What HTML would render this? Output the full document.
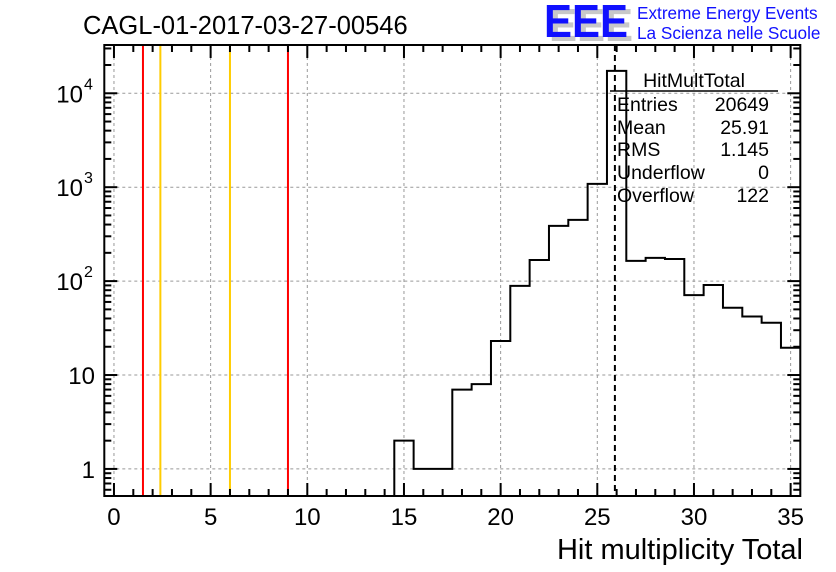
<!DOCTYPE html>
<html><head><meta charset="utf-8"><style>
body{margin:0;background:#fff;}
svg{display:block;font-family:"Liberation Sans",sans-serif;}
</style></head><body>
<svg id="c" width="836" height="572" viewBox="0 0 836 572">
<text x="83" y="34" font-size="25.5">CAGL-01-2017-03-27-00546</text>
<g>
<text x="549" y="41" font-size="46" font-weight="bold" fill="#c8c8c8" textLength="84" lengthAdjust="spacingAndGlyphs">EEE</text>
<text x="544" y="37" font-size="46" font-weight="bold" fill="#1010ff" textLength="84" lengthAdjust="spacingAndGlyphs">EEE</text>
<text x="637" y="19" font-size="17.2" fill="#1010ff">Extreme Energy Events</text>
<text x="637" y="39" font-size="17.2" fill="#1010ff">La Scienza nelle Scuole</text>
</g>
<g id="grid"></g><g id="marks"></g><g id="axes"></g>
<g font-size="19.5">
<text x="694" y="87" text-anchor="middle">HitMultTotal</text>
<line x1="610" y1="91" x2="778" y2="91" stroke="#000" stroke-width="1.5"/>
<text x="617" y="111">Entries</text><text x="769" y="111" text-anchor="end">20649</text>
<text x="617" y="134">Mean</text><text x="769" y="134" text-anchor="end">25.91</text>
<text x="617" y="156">RMS</text><text x="769" y="156" text-anchor="end">1.145</text>
<text x="617" y="179">Underflow</text><text x="769" y="179" text-anchor="end">0</text>
<text x="617" y="202">Overflow</text><text x="769" y="202" text-anchor="end">122</text>
</g>
<text x="803" y="559" font-size="29" text-anchor="end">Hit multiplicity Total</text>
</svg>
<script>
const binCenters=[14,15,16,17,18,19,20,21,22,23,24,25,26,27,28,29,30,31,32,33,34,35];
const counts=[0,2,1,1,7,8,23,89,168,387,449,1084,17300,164,177,172,71,91,52,42,36,19.5];
const xTicks=[0,5,10,15,20,25,30,35];
const yDecades=[0,1,2,3,4];
const cutLinesRed=[1.5,9];
const cutLinesYellow=[2.4,6];
const meanValue=25.91;

const L=104.3,R=800.3,T=45,B=496;
const XMIN=-0.5,XMAX=35.5,YMIN=Math.log10(0.515),YMAX=4.514;
const sx=v=>L+(v-XMIN)/(XMAX-XMIN)*(R-L);
const sy=v=>B-(Math.log10(Math.max(v,0.515))-YMIN)/(YMAX-YMIN)*(B-T);
const NS="http://www.w3.org/2000/svg";
function mk(p,tag,a){const e=document.createElementNS(NS,tag);for(const k in a)e.setAttribute(k,a[k]);p.appendChild(e);return e;}
const grid=document.getElementById('grid'),marks=document.getElementById('marks'),axes=document.getElementById('axes');

xTicks.forEach(t=>{const l=mk(grid,'line',{x1:sx(t),x2:sx(t),y1:T,y2:B,stroke:'#999','stroke-dasharray':'3,3'});

});
yDecades.forEach(d=>{const y=sy(Math.pow(10,d));const l=mk(grid,'line',{x1:L,x2:R,y1:y,y2:y,stroke:'#999','stroke-dasharray':'3,3'});

});

cutLinesRed.forEach(v=>{const l=mk(marks,'line',{x1:sx(v),x2:sx(v),y1:T,y2:B,stroke:'#ff0000','stroke-width':2});

});
cutLinesYellow.forEach(v=>{const l=mk(marks,'line',{x1:sx(v),x2:sx(v),y1:T,y2:B,stroke:'#ffcc00','stroke-width':2});

});
const ml=mk(marks,'line',{x1:sx(meanValue),x2:sx(meanValue),y1:T,y2:B,stroke:'#000','stroke-width':2,'stroke-dasharray':'6,4'});



let d='';let prev=null;
binCenters.forEach((c,i)=>{const x0=sx(c-0.5),x1=sx(c+0.5);const v=counts[i];
 if(v<=0){prev=null;return;}
 const y=sy(v);
 if(prev===null)d+=`M${x0},${B}L${x0},${y}`;else d+=`L${x0},${y}`;
 d+=`L${x1},${y}`;prev=y;});
const h=mk(marks,'path',{d:d,fill:'none',stroke:'#000','stroke-width':2});



const fr=mk(axes,'rect',{x:L,y:T,width:R-L,height:B-T,fill:'none',stroke:'#000','stroke-width':2});


for(let v=0;v<=35;v++){const x=sx(v),len=v%5==0?13:7;
 mk(axes,'line',{x1:x,x2:x,y1:B,y2:B-len,stroke:'#000','stroke-width':2});
 mk(axes,'line',{x1:x,x2:x,y1:T,y2:T+len,stroke:'#000','stroke-width':2});}
xTicks.forEach(t=>{const e=mk(axes,'text',{x:sx(t),y:525,'font-size':24,'text-anchor':'middle'});e.textContent=t;

});
for(let d2=-1;d2<=4;d2++)for(let m=1;m<=9;m++){const v=m*Math.pow(10,d2);const y=sy(v);if(y<T||y>B)continue;
 const len=m==1?13:7;
 mk(axes,'line',{x1:L,x2:L+len,y1:y,y2:y,stroke:'#000','stroke-width':2});
 mk(axes,'line',{x1:R,x2:R-len,y1:y,y2:y,stroke:'#000','stroke-width':2});}
const ylab=['1','10','10','10','10'];
yDecades.forEach(dd=>{const y=sy(Math.pow(10,dd))+9;let e;
 if(dd<2){e=mk(axes,'text',{x:95,y:y,'font-size':24,'text-anchor':'end'});e.textContent=ylab[dd];}
 else{e=mk(axes,'text',{x:83,y:y,'font-size':24,'text-anchor':'end'});e.textContent='10';
  const s=mk(axes,'text',{x:84,y:y-13,'font-size':16});s.textContent=dd;
  
  }
 
 });
</script>
</body></html>
